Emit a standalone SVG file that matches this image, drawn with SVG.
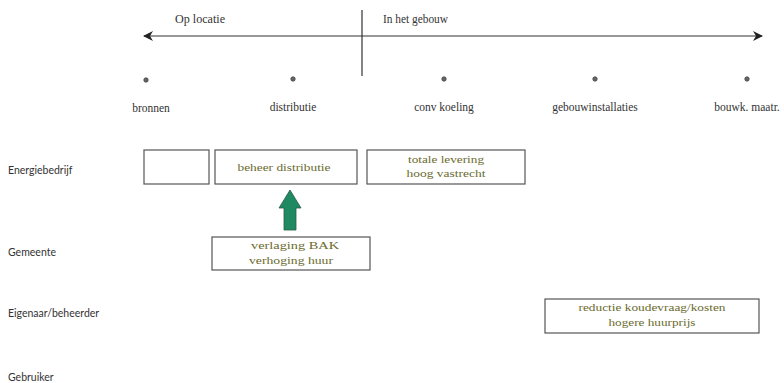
<svg xmlns="http://www.w3.org/2000/svg" width="784" height="383" viewBox="0 0 784 383">
<style>
.t{font-family:"Liberation Serif",serif;font-size:11.5px;fill:#333}
.r{font-family:"Lato","Open Sans",sans-serif;font-size:10.5px;fill:#333}
.b{font-family:"Liberation Serif",serif;font-size:11px;fill:#6b6b2e;text-anchor:middle}
.box{fill:#fff;stroke:#555;stroke-width:1.2}
.dot{fill:#666;stroke:#444;stroke-width:0.8}
</style>
<defs>
<marker id="ah" viewBox="0 0 10 10" refX="9" refY="5" markerWidth="14" markerHeight="10" markerUnits="userSpaceOnUse" orient="auto-start-reverse">
<path d="M0,0 L10,5 L0,10 L3,5 Z" fill="#222"/>
</marker>
</defs>
<rect width="784" height="383" fill="#fff"/>
<g id="connectors">
<line x1="144" y1="36" x2="762" y2="36" stroke="#333" stroke-width="1.2" marker-start="url(#ah)" marker-end="url(#ah)"/>
<line x1="362" y1="10" x2="362" y2="76" stroke="#333" stroke-width="1.2"/>
<path id="green-arrow" d="M290,190 L301,208 L296,208 L296,230 L284,230 L284,208 L279,208 Z" fill="#1f8a62" stroke="#2a5a48" stroke-width="0.8"/>
</g>
<g id="headers">
<text class="t" x="175" y="23" textLength="50" lengthAdjust="spacingAndGlyphs">Op locatie</text>
<text class="t" x="383" y="23" textLength="65" lengthAdjust="spacingAndGlyphs">In het gebouw</text>
</g>
<g id="stages">
<circle class="dot" cx="146" cy="80" r="2.2"/>
<circle class="dot" cx="293" cy="79" r="2.2"/>
<circle class="dot" cx="444" cy="79" r="2.2"/>
<circle class="dot" cx="595" cy="79" r="2.2"/>
<circle class="dot" cx="747" cy="79" r="2.2"/>
<text class="t" x="151" y="112" text-anchor="middle">bronnen</text>
<text class="t" x="293" y="111" text-anchor="middle">distributie</text>
<text class="t" x="444" y="111" text-anchor="middle">conv koeling</text>
<text class="t" x="595" y="111" text-anchor="middle">gebouwinstallaties</text>
<text class="t" x="747" y="111" text-anchor="middle">bouwk. maatr.</text>
</g>
<g id="rows">
<text class="r" x="8" y="174">Energiebedrijf</text>
<text class="r" x="8" y="256">Gemeente</text>
<text class="r" x="8" y="317">Eigenaar/beheerder</text>
<text class="r" x="8" y="381">Gebruiker</text>
</g>
<g id="box-bronnen"><rect class="box" x="144" y="150" width="65" height="34"/></g>
<g id="box-beheer"><rect class="box" x="215" y="150" width="142" height="34"/><text class="b" x="284" y="171" textLength="93" lengthAdjust="spacingAndGlyphs">beheer distributie</text></g>
<g id="box-levering"><rect class="box" x="367" y="150" width="158" height="34"/><text class="b" x="446" y="163" textLength="76" lengthAdjust="spacingAndGlyphs">totale levering</text><text class="b" x="446" y="177" textLength="79" lengthAdjust="spacingAndGlyphs">hoog vastrecht</text></g>
<g id="box-gemeente"><rect class="box" x="212" y="237" width="158" height="33"/><text class="b" x="295" y="249" textLength="88" lengthAdjust="spacingAndGlyphs">verlaging BAK</text><text class="b" x="291" y="264" textLength="84" lengthAdjust="spacingAndGlyphs">verhoging huur</text></g>
<g id="box-eigenaar"><rect class="box" x="545" y="299" width="214" height="34"/><text class="b" x="652" y="311" textLength="147" lengthAdjust="spacingAndGlyphs">reductie koudevraag/kosten</text><text class="b" x="652" y="326" textLength="87" lengthAdjust="spacingAndGlyphs">hogere huurprijs</text></g>
</svg>
